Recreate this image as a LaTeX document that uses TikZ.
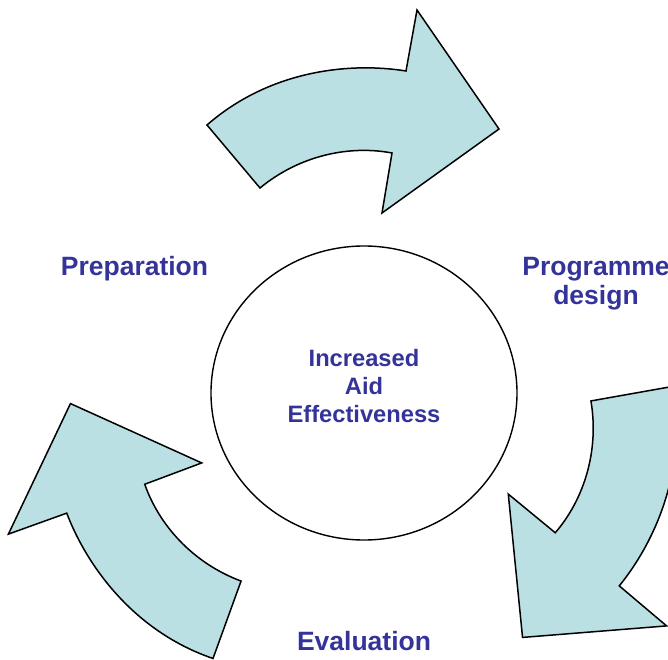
\documentclass[tikz,border=0pt]{standalone}
\usepackage{fontspec}
\setmainfont{Liberation Sans}
\usetikzlibrary{shapes.geometric}
\definecolor{cyclefill}{HTML}{BBE0E3}
\definecolor{labelblue}{HTML}{333399}
\tikzset{
  cyclearrow/.style={draw=black, line width=1.5pt, fill=cyclefill},
  stagelabel/.style={text=labelblue, font=\bfseries\fontsize{26.5}{29}\selectfont, align=center},
  hub/.style={ellipse, draw=black, line width=1.4pt, minimum width=306pt, minimum height=294pt, inner sep=0pt},
}
\begin{document}
\begin{tikzpicture}[x=1pt,y=1pt]
  \clip (-364,-266) rectangle (304,393);
  % the three curved arrows, one shape turned round the hub
  \foreach \ang in {0,-120,120}
    \draw[cyclearrow, rotate around={\ang:(0,3)}]
      (-157,268) .. controls (-94,323) and (-14,331) .. (42,322)
      -- (53,383) -- (135,264) -- (18,180) -- (28,240)
      .. controls (-14,248) and (-64,238) .. (-104,205) -- cycle;
  \node[hub] (hub) at (0,0) {};
  \node[stagelabel, font=\bfseries\fontsize{23.7}{28}\selectfont] (aim) at (0,6.5) {Increased\\Aid\\Effectiveness};
  \node[stagelabel, anchor=base] (prep) at (-229.5,118) {Preparation};
  \node[stagelabel] (design) at (232,109) {Programme\\design};
  \node[stagelabel, anchor=base] (eval) at (0,-257) {Evaluation};
\end{tikzpicture}
\end{document}
